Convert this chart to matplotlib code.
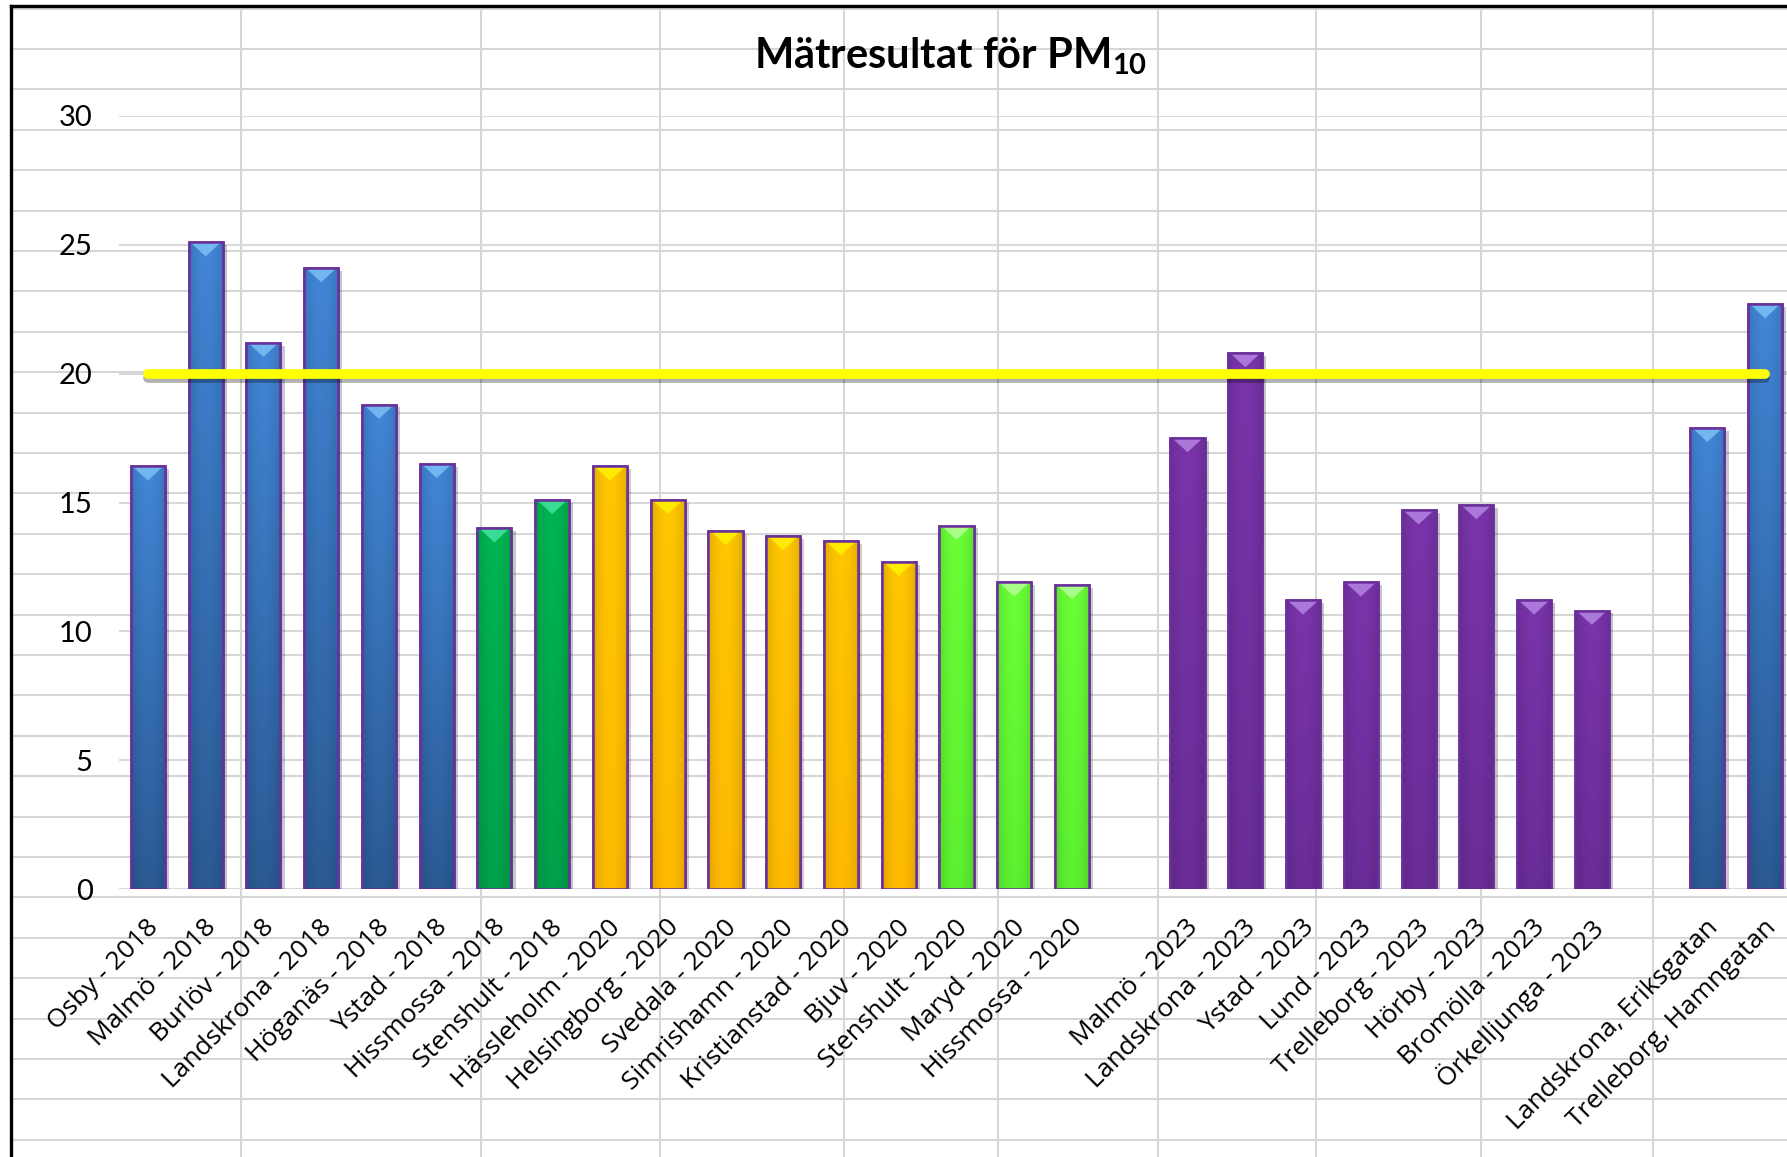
# PM10 bar chart recreation

import numpy as np
import matplotlib
matplotlib.use('Agg')
import matplotlib.pyplot as plt
from matplotlib import patheffects as pe
from matplotlib.patches import Polygon
from matplotlib.colors import to_rgb
from matplotlib.transforms import ScaledTranslation

# data
categories = ["Osby - 2018", "Malmö - 2018", "Burlöv - 2018", "Landskrona - 2018",
              "Höganäs - 2018", "Ystad - 2018", "Hissmossa - 2018", "Stenshult - 2018",
              "Hässleholm - 2020", "Helsingborg - 2020", "Svedala - 2020", "Simrishamn - 2020",
              "Kristianstad - 2020", "Bjuv - 2020", "Stenshult - 2020", "Maryd - 2020",
              "Hissmossa - 2020", "",
              "Malmö - 2023", "Landskrona - 2023", "Ystad - 2023", "Lund - 2023",
              "Trelleborg - 2023", "Hörby - 2023", "Bromölla - 2023", "Örkelljunga - 2023", "",
              "Landskrona, Eriksgatan", "Trelleborg, Hamngatan"]
values = [16.4, 25.1, 21.2, 24.1, 18.8, 16.5, 14.0, 15.1,
          16.4, 15.1, 13.9, 13.7, 13.5, 12.7, 14.1, 11.9, 11.8, np.nan,
          17.5, 20.8, 11.2, 11.9, 14.7, 14.9, 11.2, 10.8, np.nan,
          17.9, 22.7]
groups = (['blue'] * 6 + ['green'] * 2 + ['orange'] * 6 + ['lime'] * 3 + [''] +
          ['purple'] * 8 + [''] + ['blue'] * 2)
limit_value = 20
yticks = [0, 5, 10, 15, 20, 25, 30]

# (top colour, bottom colour, bevel colour)
palette = {
    'blue':   ('#4186D6', '#2B5A94', '#7CC0F5'),
    'green':  ('#00B552', '#00A049', '#45E3A0'),
    'orange': ('#FFC600', '#FFBA00', '#FFF200'),
    'lime':   ('#6AFF36', '#5CF030', '#B5FF9A'),
    'purple': ('#7A34AB', '#6A2D98', '#B585E3'),
}

plt.rcParams['font.family'] = ['Lato', 'DejaVu Sans']
plt.rcParams['mathtext.fontset'] = 'custom'
plt.rcParams['mathtext.rm'] = 'Lato:bold'
plt.rcParams['mathtext.bf'] = 'Lato:bold'

W, H = 1787, 1157
fig = plt.figure(figsize=(W / 100, H / 100), dpi=100)

# spreadsheet cells behind the chart
bg = fig.add_axes([0, 0, 1, 1], zorder=0)
bg.set_xlim(0, W)
bg.set_ylim(H, 0)
bg.axis('off')
for y in np.arange(8.6, H, 40.4):
    bg.plot([11, W], [y, y], color='#d6d6d6', lw=1.5)
for x in [241, 481, 660, 844, 998, 1158, 1316, 1481, 1653]:
    bg.plot([x, x], [7, H], color='#d6d6d6', lw=1.5)
bg.plot([11, 11], [6, H], color='black', lw=2.4, solid_capstyle='projecting')
bg.plot([11, W], [6, 6], color='black', lw=2.4, solid_capstyle='projecting')

# chart
ax = fig.add_axes([119 / W, (H - 889) / H, (1794 - 119) / W, (889 - 116) / H], zorder=1)
ax.set_facecolor('none')
for s in ax.spines.values():
    s.set_visible(False)

x = np.arange(len(categories))
width = 0.59
keep = [i for i, v in enumerate(values) if not np.isnan(v)]

def bar_image(top, bottom):
    t = np.linspace(0, 1, 80)[:, None, None]
    u = np.linspace(-1, 1, 40)[None, :, None]
    col = np.array(to_rgb(top)) * (1 - t) + np.array(to_rgb(bottom)) * t
    shade = 1 - 0.12 * u ** 2
    return np.clip(col * shade, 0, 1)

cap_h = 0.55
for i in keep:
    top, bottom, bevel = palette[groups[i]]
    rect = ax.bar(x[i], values[i], width=width, color=top, edgecolor='#6A2F9A',
                  linewidth=1.8, zorder=3,
                  path_effects=[pe.SimplePatchShadow(offset=(3, -2), alpha=0.25),
                                pe.Normal()])[0]
    im = ax.imshow(bar_image(top, bottom), aspect='auto', zorder=3.1,
                   extent=(x[i] - width / 2, x[i] + width / 2, 0, values[i]))
    im.set_clip_path(rect)
    ax.add_patch(Polygon([(x[i] - width / 2 + 0.03, values[i]),
                          (x[i] + width / 2 - 0.03, values[i]),
                          (x[i], values[i] - cap_h)],
                         closed=True, facecolor=bevel, edgecolor='none',
                         alpha=0.85, zorder=3.2))
    ax.add_patch(Polygon([(x[i] - width / 2, values[i]), (x[i] + width / 2, values[i]),
                          (x[i] + width / 2, 0), (x[i] - width / 2, 0)],
                         closed=True, facecolor='none', edgecolor='#6A2F9A',
                         linewidth=1.8, zorder=3.3))

# limit line
ax.plot([x[0], x[-1]], [limit_value, limit_value], color='#FFFF00', lw=7,
        solid_capstyle='round', zorder=5,
        path_effects=[pe.SimpleLineShadow(offset=(0, -3), alpha=0.3), pe.Normal()])

ax.set_xlim(-0.5, 28.5)
ax.set_ylim(0, 30)
ax.set_yticks(yticks)
ax.yaxis.grid(True, color='#d9d9d9', lw=1.5, zorder=0)
ax.set_axisbelow(True)
ax.tick_params(axis='y', length=0, pad=19, labelsize=21)
ax.set_xticks(x)
ax.set_xticklabels(categories, rotation=45, ha='right', va='center',
                   rotation_mode='anchor', fontsize=19, family=['Open Sans', 'DejaVu Sans'])
ax.tick_params(axis='x', length=0, pad=25)
offset = ScaledTranslation(7 / 100, 0, fig.dpi_scale_trans)
for lab in ax.get_xticklabels():
    lab.set_transform(lab.get_transform() + offset)

fig.text(951 / W, 1 - 56 / H, r'Mätresultat för PM$_{\mathbf{10}}$',
         fontsize=30, fontweight='bold', ha='center', va='center')

fig.savefig('out.png', dpi=100)
